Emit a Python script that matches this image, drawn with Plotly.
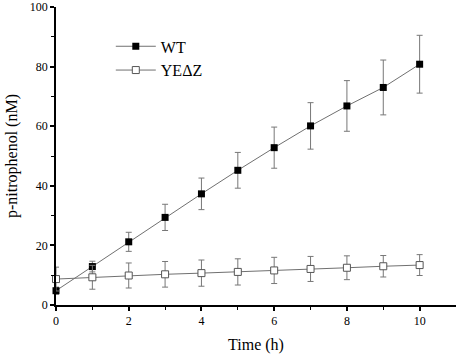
import plotly.graph_objects as go

time_h = [0, 1, 2, 3, 4, 5, 6, 7, 8, 9, 10]
wt_vals = [4.8, 12.9, 21.2, 29.4, 37.3, 45.2, 52.8, 60.1, 66.8, 73.0, 80.8]
wt_err = [1.2, 1.8, 3.2, 4.4, 5.3, 6.0, 6.9, 7.8, 8.5, 9.2, 9.7]
ye_vals = [8.7, 9.3, 9.9, 10.3, 10.7, 11.1, 11.6, 12.1, 12.5, 13.0, 13.4]
ye_err = [4.0, 4.0, 4.2, 4.3, 4.4, 4.4, 4.4, 4.2, 4.0, 3.6, 3.5]

FONT = "Liberation Serif"

fig = go.Figure()
fig.add_trace(go.Scatter(
    x=time_h, y=wt_vals, name="WT", mode="lines+markers", legendgroup="a",
    line=dict(color="#707070", width=1),
    marker=dict(symbol="square", size=7, color="black", line=dict(color="black", width=0)),
    error_y=dict(type="data", array=wt_err, color="#777777", thickness=1, width=3),
    cliponaxis=False,
))
fig.add_trace(go.Scatter(
    x=time_h, y=ye_vals, name="YEΔZ", mode="lines+markers", legendgroup="b",
    line=dict(color="#707070", width=1),
    marker=dict(symbol="square", size=7, color="white", line=dict(color="#555555", width=1)),
    error_y=dict(type="data", array=ye_err, color="#777777", thickness=1, width=3),
    cliponaxis=False,
))

fig.update_layout(
    width=459, height=355,
    margin=dict(l=56, r=3, t=7, b=50),
    plot_bgcolor="white", paper_bgcolor="white",
    font=dict(family=FONT, color="black"),
    showlegend=True,
    legend=dict(x=0.137, y=0.925, xanchor="left", yanchor="top",
                font=dict(family=FONT, size=16, color="black"),
                bgcolor="rgba(0,0,0,0)", traceorder="grouped", tracegroupgap=0,
                itemwidth=40),
    xaxis=dict(
        range=[0, 11], showline=True, linecolor="black", linewidth=1.5,
        showgrid=False, zeroline=False, automargin=False,
        tickmode="array", tickvals=[0, 2, 4, 6, 8, 10],
        ticks="outside", ticklen=4, tickwidth=1.5, tickcolor="black",
        minor=dict(tickvals=[1, 3, 5, 7, 9], ticks="outside", ticklen=3, tickwidth=1.2, tickcolor="black"),
        tickfont=dict(family=FONT, size=12, color="black"),
        title=dict(text="Time (h)", font=dict(family=FONT, size=16, color="black"), standoff=12),
    ),
    yaxis=dict(
        range=[0, 100], showline=True, linecolor="black", linewidth=1.5,
        showgrid=False, zeroline=False, automargin=False,
        tickmode="array", tickvals=[0, 20, 40, 60, 80, 100],
        ticks="outside", ticklen=4, tickwidth=1.5, tickcolor="black",
        minor=dict(tickvals=[10, 30, 50, 70, 90], ticks="outside", ticklen=3, tickwidth=1.2, tickcolor="black"),
        tickfont=dict(family=FONT, size=12, color="black"),
        title=dict(text="p-nitrophenol (nM)", font=dict(family=FONT, size=16, color="black"), standoff=8),
    ),
)

fig.write_html("out.html", config={"displayModeBar": False},
               post_script="document.body.style.margin='0';document.body.style.overflow='hidden';")
